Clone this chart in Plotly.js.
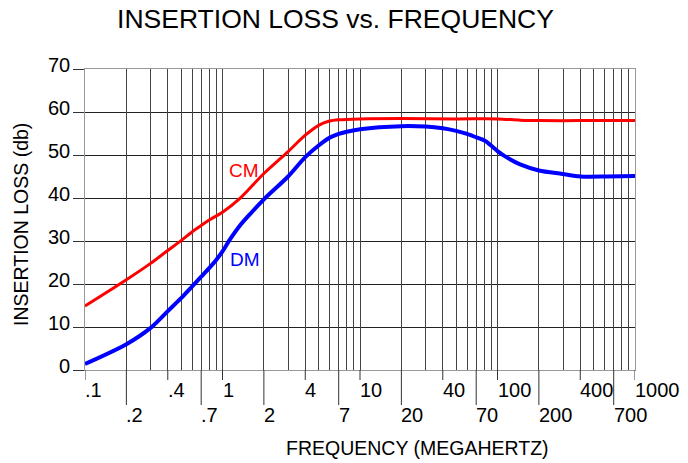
<!DOCTYPE html>
<html><head><meta charset="utf-8">
<script src="https://cdn.plot.ly/plotly-3.0.1.min.js"></script>
<style>html,body{margin:0;padding:0;background:#fff}#chart{width:688px;height:463px}</style>
</head><body><div id="chart"></div>
<script>
const cmFreq = [0.1,0.2,0.3,0.4,0.5,0.6,0.7,0.8,1.0,1.34,2,3,4,5,6,7,10,20,50,100,146,200,400,1000];
const cmLoss = [14.9,21,24.8,27.8,30.1,32.1,33.6,34.9,36.7,39.9,45.7,50.8,54.6,56.9,57.9,58.2,58.4,58.5,58.4,58.4,58.1,58.0,58.0,58.0];
const dmFreq = [0.1,0.2,0.3,0.4,0.5,0.6,0.7,0.8,0.9,1.0,1.13,1.34,1.58,2,3,4,5,6,7,8,10,20,30,40,50,60,70,81,92,100,116,146,200,296,400,626,1000];
const dmLoss = [1.4,6.0,9.8,13.7,16.7,19.4,21.7,23.7,25.6,27.6,30.3,33.6,36.2,39.7,45,49.5,52.2,54.0,54.9,55.4,56.0,56.7,56.6,56.2,55.6,54.9,54.1,53.3,51.9,50.9,49.5,47.8,46.4,45.6,45.0,45.0,45.1];
const topTicks = [0.1,0.4,1,4,10,40,100,400,1000];
const topLabels = ['.1','.4','1','4','10','40','100','400','1000'];
const botTicks = [0.2,0.7,2,7,20,70,200,700];
const botLabels = ['.2','.7','2','7','20','70','200','700'];
const yTicks = [0,10,20,30,40,50,60,70];
const yLabels = ['0','10','20','30','40','50','60','70'];

const FONT = 'Arial, "Liberation Sans", sans-serif';
const PLOT_H = 463 - 69 - 93;
const traces = [
  {x: cmFreq, y: cmLoss, mode:'lines', line:{color:'#ff0000', width:3, shape:'spline', smoothing:0.8}, hoverinfo:'skip'},
  {x: dmFreq, y: dmLoss, xaxis:'x2', mode:'lines', line:{color:'#0000ff', width:4, shape:'spline', smoothing:0.8}, hoverinfo:'skip'}
];
const annotations = [];
topTicks.forEach((v,i)=>annotations.push({xref:'x', yref:'paper', x:Math.log10(v), y:0, yshift:-20, xanchor:'left', yanchor:'middle', xshift:-2, text:topLabels[i], showarrow:false, font:{family:FONT,size:20,color:'#000'}}));
botTicks.forEach((v,i)=>annotations.push({xref:'x', yref:'paper', x:Math.log10(v), y:0, yshift:-45, xanchor:'left', yanchor:'middle', xshift:-2, text:botLabels[i], showarrow:false, font:{family:FONT,size:20,color:'#000'}}));
yTicks.forEach((v,i)=>annotations.push({xref:'paper', yref:'y', x:0, xshift:-13, y:v, yshift:4, xanchor:'right', yanchor:'middle', text:yLabels[i], showarrow:false, font:{family:FONT,size:20,color:'#000'}}));
annotations.push({xref:'paper', yref:'paper', x:(417-85)/550, y:0, yshift:-78, xanchor:'center', yanchor:'middle', text:'FREQUENCY (MEGAHERTZ)', showarrow:false, font:{family:FONT,size:19.5,color:'#000'}});
annotations.push({xref:'paper', yref:'paper', x:0, xshift:-64, y:(370-225)/PLOT_H, xanchor:'center', yanchor:'middle', textangle:-90, text:'INSERTION LOSS (db)', showarrow:false, font:{family:FONT,size:19.5,color:'#000'}});
annotations.push({xref:'x', yref:'y', x:Math.log10(1.08), y:46.5, xanchor:'left', yanchor:'middle', text:'CM', showarrow:false, font:{family:FONT,size:19,color:'#ff0000'}});
annotations.push({xref:'x', yref:'y', x:Math.log10(1.1), y:25.8, xanchor:'left', yanchor:'middle', text:'DM', showarrow:false, font:{family:FONT,size:19,color:'#0000ff'}});

// tick extensions below the plot (top row short, bottom row long); shapes take data values on log axes
const shapes = [];
topTicks.forEach(v=>shapes.push({type:'line', xref:'x', yref:'paper', x0:v, x1:v, y0:0, y1:-10/PLOT_H, line:{color:'#333', width:1}, layer:'above'}));
botTicks.forEach(v=>shapes.push({type:'line', xref:'x', yref:'paper', x0:v, x1:v, y0:0, y1:-35/PLOT_H, line:{color:'#333', width:1}, layer:'above'}));

const layout = {
  width:688, height:463,
  margin:{l:85, r:53, t:69, b:93},
  paper_bgcolor:'#fff', plot_bgcolor:'#fff',
  showlegend:false,
  title:{text:'INSERTION LOSS vs. FREQUENCY', font:{family:FONT,size:26.5,color:'#000'}, x:(335.5)/688, xanchor:'center', y:1-19/463, yanchor:'middle'},
  xaxis:{type:'log', range:[-1,3], tickmode:'array', tickvals:topTicks, ticks:'', showgrid:true, gridcolor:'#444', gridwidth:1, showticklabels:false, showline:true, mirror:true, linecolor:'#999', zeroline:false, fixedrange:true},
  xaxis2:{type:'log', range:[-1,3], overlaying:'x', anchor:'y', side:'bottom', dtick:'D1', ticks:'', showticklabels:false, showgrid:true, gridcolor:'#444', gridwidth:1, showline:false, zeroline:false, fixedrange:true},
  yaxis:{range:[0,70], tickmode:'array', tickvals:yTicks, ticks:'outside', ticklen:11, tickcolor:'#333', showticklabels:false, showgrid:true, gridcolor:'#222', gridwidth:1, showline:true, mirror:true, linecolor:'#999', zeroline:false, fixedrange:true},
  shapes: shapes,
  annotations: annotations
};
Plotly.newPlot('chart', traces, layout, {staticPlot:true, displayModeBar:false});
</script></body></html>
